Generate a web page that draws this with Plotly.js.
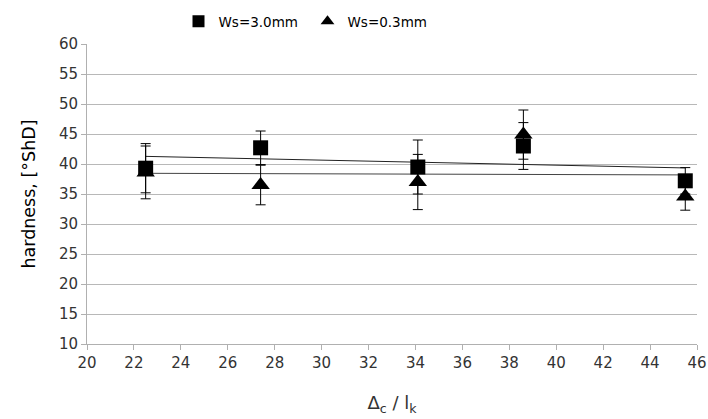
<!DOCTYPE html>
<html><head><meta charset="utf-8">
<script src="https://cdn.plot.ly/plotly-3.0.1.min.js"></script>
<style>body{margin:0;padding:0;background:#fff}#chart{width:708px;height:419px}</style>
</head><body><div id="chart"></div>
<script>
const xValues = [22.5, 27.4, 34.1, 38.6, 45.5];
const hardnessWs30 = [39.3, 42.7, 39.5, 43.0, 37.2];
const errorWs30 = [4.1, 2.8, 4.5, 3.9, 2.2];
const hardnessWs03 = [38.6, 36.5, 37.0, 44.9, 34.6];
const errorWs03 = [4.4, 3.3, 4.6, 4.1, 2.3];
const seriesNames = ["Ws=3.0mm", "Ws=0.3mm"];
const xTicks = [20,22,24,26,28,30,32,34,36,38,40,42,44,46];
const yTicks = [10,15,20,25,30,35,40,45,50,55,60];

function linfit(x, y) {
  const n = x.length;
  const mx = x.reduce((a,b)=>a+b,0)/n, my = y.reduce((a,b)=>a+b,0)/n;
  let sxy = 0, sxx = 0;
  for (let i=0;i<n;i++){ sxy += (x[i]-mx)*(y[i]-my); sxx += (x[i]-mx)**2; }
  const b = sxy/sxx, a = my - b*mx;
  const xs = [Math.min(...x), Math.max(...x)];
  return {x: xs, y: xs.map(v => a + b*v)};
}
const t1 = linfit(xValues, hardnessWs30);
const t2 = linfit(xValues, hardnessWs03);

const traces = [
  {x: t1.x, y: t1.y, mode: 'lines', line: {color: '#222', width: 1}, showlegend: false, hoverinfo: 'skip'},
  {x: t2.x, y: t2.y, mode: 'lines', line: {color: '#444', width: 1}, showlegend: false, hoverinfo: 'skip'},
  {x: xValues, y: hardnessWs30, name: seriesNames[0], mode: 'markers', type: 'scatter',
   marker: {symbol: 'square', size: 15, color: '#000'},
   error_y: {type: 'data', array: errorWs30, visible: true, color: '#000', thickness: 1, width: 5}},
  {x: xValues, y: hardnessWs03, name: seriesNames[1], mode: 'markers', type: 'scatter',
   marker: {symbol: 'triangle-up', size: 16, color: '#000'},
   error_y: {type: 'data', array: errorWs03, visible: true, color: '#000', thickness: 1, width: 5}}
];

const layout = {
  width: 708, height: 419,
  margin: {l: 87, r: 11, t: 44, b: 75, autoexpand: false},
  paper_bgcolor: '#fff', plot_bgcolor: '#fff',
  font: {family: 'DejaVu Sans, Verdana, sans-serif', size: 15, color: '#333'},
  showlegend: true,
  legend: {orientation: 'h', x: 0.15, xanchor: 'left', y: 1.075, yanchor: 'middle',
           font: {size: 13.5, color: '#000'}, itemsizing: 'constant', itemwidth: 30,
           entrywidth: 84, entrywidthmode: 'pixels', bgcolor: 'rgba(0,0,0,0)'},
  xaxis: {range: [20, 46], tickvals: xTicks, ticktext: xTicks.map(String),
          showgrid: false, zeroline: false, showline: true, linecolor: '#b0b0b0', linewidth: 1,
          ticks: 'outside', ticklen: 5, tickcolor: '#b0b0b0', tickfont: {size: 15},
          title: {text: 'Δ<sub>c</sub> / l<sub>k</sub>', font: {size: 18, color: '#333'}, standoff: 25}},
  yaxis: {range: [10, 60], tickvals: yTicks, ticktext: yTicks.map(String),
          showgrid: true, gridcolor: '#b8b8b8', gridwidth: 1, zeroline: false,
          showline: true, linecolor: '#b0b0b0', linewidth: 1,
          ticks: 'outside', ticklen: 5, tickcolor: '#b0b0b0', tickfont: {size: 15},
          title: {text: 'hardness, [°ShD]', font: {size: 17.5, color: '#000'}, standoff: 18}}
};
Plotly.newPlot('chart', traces, layout, {displayModeBar: false, staticPlot: true});
</script></body></html>
